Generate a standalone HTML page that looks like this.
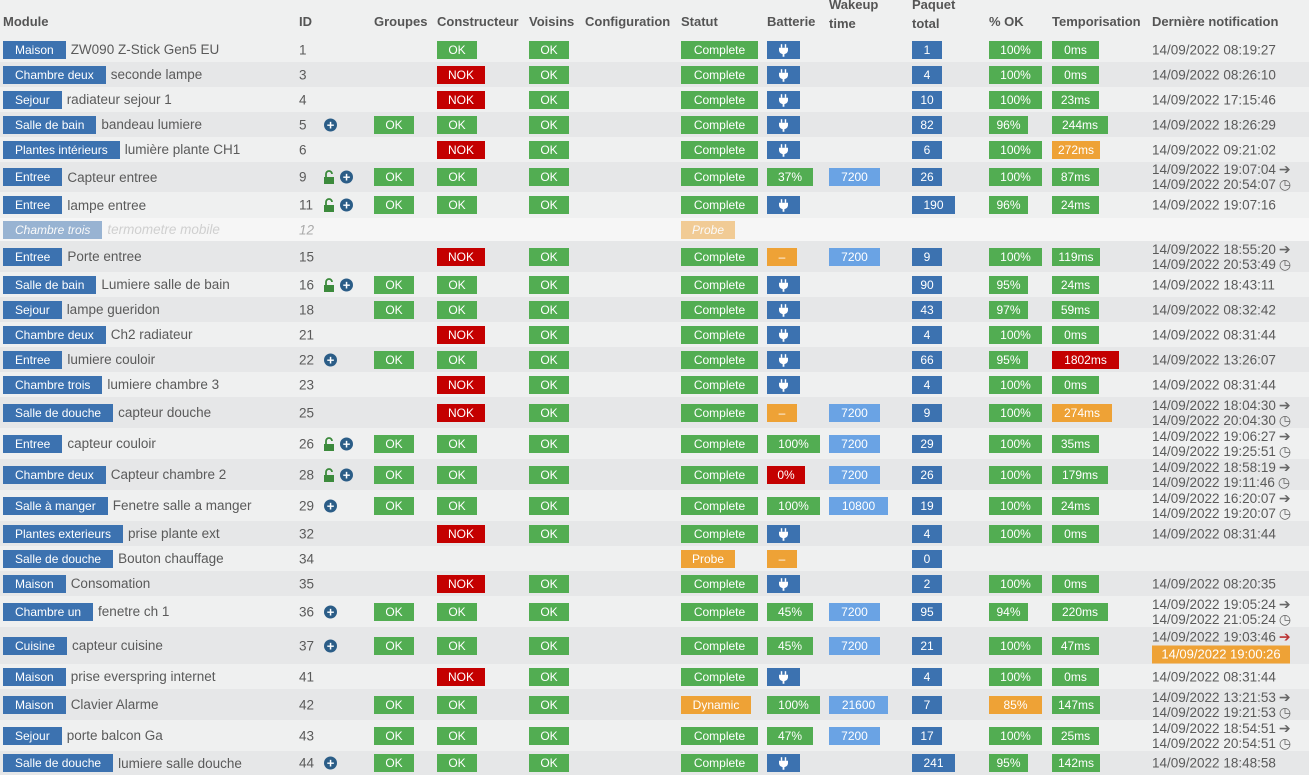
<!DOCTYPE html>
<html><head><meta charset="utf-8"><style>
body{margin:0;width:1309px;height:775px;overflow:hidden;background:#eff0f0;font-family:"Liberation Sans",sans-serif;font-size:13.5px;color:#5a5a5a;position:relative}
.h{position:absolute;top:14px;font-weight:bold;font-size:13px;color:#555}
.row{position:absolute;left:0;width:1309px}
.a{background:#eff0f0}.z{background:#e6e7e8}.w{background:#f6f6f6}
.row>*{position:absolute;top:50%;transform:translateY(-50%)}
.b{height:18px;line-height:18px;color:#fff;text-align:center;font-size:12px;white-space:nowrap}
.g{background:#52ad52}.r{background:#c40000}.bl{background:#3c72b0}.lb{background:#6aa3e4}.o{background:#eea236}
.m{left:3px;white-space:nowrap;display:flex;align-items:center}
.m .b{padding:0 12px;display:inline-block}
.m i{font-style:normal;margin-left:5px}
.id{left:299px}
.c1{left:374px;width:40px}.c2{left:437px;width:40px}.c2.r{width:48px}.c3{left:529px;width:40px}
.st{left:681px;width:77px}.bat{left:767px}.wk{left:829px;width:51px}.pq{left:912px;width:30px}.pq3{width:43px}
.ok{left:989px;width:53px}.ok9{width:39px}.tp{left:1052px;width:47px}
.d{left:1152px;line-height:15px;white-space:nowrap}
.plus{width:13px;height:13px;border-radius:50%;background:#2b5d87;color:#fff;font-size:13px;line-height:13px;text-align:center;font-weight:bold}
.ic{font-size:14px;color:#666;margin-left:3px}
</style></head><body>
<div class="h" style="left:3px">Module</div>
<div class="h" style="left:299px">ID</div>
<div class="h" style="left:374px">Groupes</div>
<div class="h" style="left:437px">Constructeur</div>
<div class="h" style="left:529px">Voisins</div>
<div class="h" style="left:585px">Configuration</div>
<div class="h" style="left:681px">Statut</div>
<div class="h" style="left:767px">Batterie</div>
<div class="h" style="left:829px;top:-5px;line-height:19px">Wakeup<br>time</div>
<div class="h" style="left:912px;top:-5px;line-height:19px">Paquet<br>total</div>
<div class="h" style="left:989px">% OK</div>
<div class="h" style="left:1052px">Temporisation</div>
<div class="h" style="left:1152px">Dernière notification</div>

<svg width="0" height="0" style="position:absolute"><defs>
<symbol id="plug" viewBox="0 0 10 14"><rect x="2" y="0" width="1.6" height="4" fill="#fff"/><rect x="6.4" y="0" width="1.6" height="4" fill="#fff"/><path d="M0 4h10v3a5 5 0 0 1-4 4v3h-2v-3a5 5 0 0 1-4-4z" fill="#fff"/></symbol>
<symbol id="lock" viewBox="0 0 14 14"><path d="M3 7V4a3 3 0 0 1 6 0" stroke="#3c8a3c" stroke-width="1.8" fill="none"/><rect x="1" y="7" width="10" height="7" fill="#3c8a3c"/></symbol>
</defs></svg>

<div class="row a" style="top:37px;height:25px"><span class="m"><span class="b bl">Maison</span><i>ZW090 Z-Stick Gen5 EU</i></span><span class="id">1</span><span class="b g c2">OK</span><span class="b g c3">OK</span><span class="b g st">Complete</span><span class="b bl bat" style="width:33px"><svg width="9" height="13" style="margin-top:3px"><use href="#plug"/></svg></span><span class="b bl pq">1</span><span class="b g ok">100%</span><span class="b g tp">0ms</span><span class="d">14/09/2022 08:19:27</span></div>
<div class="row z" style="top:62px;height:25px"><span class="m"><span class="b bl">Chambre deux</span><i>seconde lampe</i></span><span class="id">3</span><span class="b r c2">NOK</span><span class="b g c3">OK</span><span class="b g st">Complete</span><span class="b bl bat" style="width:33px"><svg width="9" height="13" style="margin-top:3px"><use href="#plug"/></svg></span><span class="b bl pq">4</span><span class="b g ok">100%</span><span class="b g tp">0ms</span><span class="d">14/09/2022 08:26:10</span></div>
<div class="row a" style="top:87px;height:25px"><span class="m"><span class="b bl">Sejour</span><i>radiateur sejour 1</i></span><span class="id">4</span><span class="b r c2">NOK</span><span class="b g c3">OK</span><span class="b g st">Complete</span><span class="b bl bat" style="width:33px"><svg width="9" height="13" style="margin-top:3px"><use href="#plug"/></svg></span><span class="b bl pq">10</span><span class="b g ok">100%</span><span class="b g tp">23ms</span><span class="d">14/09/2022 17:15:46</span></div>
<div class="row z" style="top:112px;height:25px"><span class="m"><span class="b bl">Salle de bain</span><i>bandeau lumiere</i></span><span class="id">5</span><span class="plus" style="left:324px">+</span><span class="b g c1">OK</span><span class="b g c2">OK</span><span class="b g c3">OK</span><span class="b g st">Complete</span><span class="b bl bat" style="width:33px"><svg width="9" height="13" style="margin-top:3px"><use href="#plug"/></svg></span><span class="b bl pq">82</span><span class="b g ok ok9">96%</span><span class="b g tp" style="width:56px">244ms</span><span class="d">14/09/2022 18:26:29</span></div>
<div class="row a" style="top:137px;height:25px"><span class="m"><span class="b bl">Plantes intérieurs</span><i>lumière plante CH1</i></span><span class="id">6</span><span class="b r c2">NOK</span><span class="b g c3">OK</span><span class="b g st">Complete</span><span class="b bl bat" style="width:33px"><svg width="9" height="13" style="margin-top:3px"><use href="#plug"/></svg></span><span class="b bl pq">6</span><span class="b g ok">100%</span><span class="b o tp" style="width:48px">272ms</span><span class="d">14/09/2022 09:21:02</span></div>
<div class="row z" style="top:162px;height:30px"><span class="m"><span class="b bl">Entree</span><i>Capteur entree</i></span><span class="id">9</span><svg style="left:323px" width="14" height="14"><use href="#lock"/></svg><span class="plus" style="left:340px">+</span><span class="b g c1">OK</span><span class="b g c2">OK</span><span class="b g c3">OK</span><span class="b g st">Complete</span><span class="b g bat" style="width:46px">37%</span><span class="b lb wk">7200</span><span class="b bl pq">26</span><span class="b g ok">100%</span><span class="b g tp">87ms</span><span class="d">14/09/2022 19:07:04<span class="ic">➔</span><br>14/09/2022 20:54:07<span class="ic">◷</span></span></div>
<div class="row a" style="top:192px;height:26px"><span class="m"><span class="b bl">Entree</span><i>lampe entree</i></span><span class="id">11</span><svg style="left:323px" width="14" height="14"><use href="#lock"/></svg><span class="plus" style="left:340px">+</span><span class="b g c1">OK</span><span class="b g c2">OK</span><span class="b g c3">OK</span><span class="b g st">Complete</span><span class="b bl bat" style="width:33px"><svg width="9" height="13" style="margin-top:3px"><use href="#plug"/></svg></span><span class="b bl pq pq3">190</span><span class="b g ok ok9">96%</span><span class="b g tp">24ms</span><span class="d">14/09/2022 19:07:16</span></div>
<div class="row w" style="top:218px;height:23px;color:#aaa;font-style:italic"><span class="m" style="opacity:.5"><span class="b bl" style="font-style:italic">Chambre trois</span><i style="font-style:italic">termometre mobile</i></span><span class="id">12</span><span class="b o st" style="width:54px;opacity:.5">Probe</span></div>
<div class="row z" style="top:241px;height:31px"><span class="m"><span class="b bl">Entree</span><i>Porte entree</i></span><span class="id">15</span><span class="b r c2">NOK</span><span class="b g c3">OK</span><span class="b g st">Complete</span><span class="b o bat" style="width:30px">–</span><span class="b lb wk">7200</span><span class="b bl pq">9</span><span class="b g ok">100%</span><span class="b g tp" style="width:48px">119ms</span><span class="d">14/09/2022 18:55:20<span class="ic">➔</span><br>14/09/2022 20:53:49<span class="ic">◷</span></span></div>
<div class="row a" style="top:272px;height:25px"><span class="m"><span class="b bl">Salle de bain</span><i>Lumiere salle de bain</i></span><span class="id">16</span><svg style="left:323px" width="14" height="14"><use href="#lock"/></svg><span class="plus" style="left:340px">+</span><span class="b g c1">OK</span><span class="b g c2">OK</span><span class="b g c3">OK</span><span class="b g st">Complete</span><span class="b bl bat" style="width:33px"><svg width="9" height="13" style="margin-top:3px"><use href="#plug"/></svg></span><span class="b bl pq">90</span><span class="b g ok ok9">95%</span><span class="b g tp">24ms</span><span class="d">14/09/2022 18:43:11</span></div>
<div class="row z" style="top:297px;height:25px"><span class="m"><span class="b bl">Sejour</span><i>lampe gueridon</i></span><span class="id">18</span><span class="b g c1">OK</span><span class="b g c2">OK</span><span class="b g c3">OK</span><span class="b g st">Complete</span><span class="b bl bat" style="width:33px"><svg width="9" height="13" style="margin-top:3px"><use href="#plug"/></svg></span><span class="b bl pq">43</span><span class="b g ok ok9">97%</span><span class="b g tp">59ms</span><span class="d">14/09/2022 08:32:42</span></div>
<div class="row a" style="top:322px;height:25px"><span class="m"><span class="b bl">Chambre deux</span><i>Ch2 radiateur</i></span><span class="id">21</span><span class="b r c2">NOK</span><span class="b g c3">OK</span><span class="b g st">Complete</span><span class="b bl bat" style="width:33px"><svg width="9" height="13" style="margin-top:3px"><use href="#plug"/></svg></span><span class="b bl pq">4</span><span class="b g ok">100%</span><span class="b g tp">0ms</span><span class="d">14/09/2022 08:31:44</span></div>
<div class="row z" style="top:347px;height:25px"><span class="m"><span class="b bl">Entree</span><i>lumiere couloir</i></span><span class="id">22</span><span class="plus" style="left:324px">+</span><span class="b g c1">OK</span><span class="b g c2">OK</span><span class="b g c3">OK</span><span class="b g st">Complete</span><span class="b bl bat" style="width:33px"><svg width="9" height="13" style="margin-top:3px"><use href="#plug"/></svg></span><span class="b bl pq">66</span><span class="b g ok ok9">95%</span><span class="b r tp" style="width:67px">1802ms</span><span class="d">14/09/2022 13:26:07</span></div>
<div class="row a" style="top:372px;height:25px"><span class="m"><span class="b bl">Chambre trois</span><i>lumiere chambre 3</i></span><span class="id">23</span><span class="b r c2">NOK</span><span class="b g c3">OK</span><span class="b g st">Complete</span><span class="b bl bat" style="width:33px"><svg width="9" height="13" style="margin-top:3px"><use href="#plug"/></svg></span><span class="b bl pq">4</span><span class="b g ok">100%</span><span class="b g tp">0ms</span><span class="d">14/09/2022 08:31:44</span></div>
<div class="row z" style="top:397px;height:31px"><span class="m"><span class="b bl">Salle de douche</span><i>capteur douche</i></span><span class="id">25</span><span class="b r c2">NOK</span><span class="b g c3">OK</span><span class="b g st">Complete</span><span class="b o bat" style="width:30px">–</span><span class="b lb wk">7200</span><span class="b bl pq">9</span><span class="b g ok">100%</span><span class="b o tp" style="width:60px">274ms</span><span class="d">14/09/2022 18:04:30<span class="ic">➔</span><br>14/09/2022 20:04:30<span class="ic">◷</span></span></div>
<div class="row a" style="top:428px;height:31px"><span class="m"><span class="b bl">Entree</span><i>capteur couloir</i></span><span class="id">26</span><svg style="left:323px" width="14" height="14"><use href="#lock"/></svg><span class="plus" style="left:340px">+</span><span class="b g c1">OK</span><span class="b g c2">OK</span><span class="b g c3">OK</span><span class="b g st">Complete</span><span class="b g bat" style="width:53px">100%</span><span class="b lb wk">7200</span><span class="b bl pq">29</span><span class="b g ok">100%</span><span class="b g tp">35ms</span><span class="d">14/09/2022 19:06:27<span class="ic">➔</span><br>14/09/2022 19:25:51<span class="ic">◷</span></span></div>
<div class="row z" style="top:459px;height:31px"><span class="m"><span class="b bl">Chambre deux</span><i>Capteur chambre 2</i></span><span class="id">28</span><svg style="left:323px" width="14" height="14"><use href="#lock"/></svg><span class="plus" style="left:340px">+</span><span class="b g c1">OK</span><span class="b g c2">OK</span><span class="b g c3">OK</span><span class="b g st">Complete</span><span class="b r bat" style="width:38px">0%</span><span class="b lb wk">7200</span><span class="b bl pq">26</span><span class="b g ok">100%</span><span class="b g tp" style="width:56px">179ms</span><span class="d">14/09/2022 18:58:19<span class="ic">➔</span><br>14/09/2022 19:11:46<span class="ic">◷</span></span></div>
<div class="row a" style="top:490px;height:31px"><span class="m"><span class="b bl">Salle à manger</span><i>Fenetre salle a manger</i></span><span class="id">29</span><span class="plus" style="left:324px">+</span><span class="b g c1">OK</span><span class="b g c2">OK</span><span class="b g c3">OK</span><span class="b g st">Complete</span><span class="b g bat" style="width:53px">100%</span><span class="b lb wk" style="width:59px">10800</span><span class="b bl pq">19</span><span class="b g ok">100%</span><span class="b g tp">24ms</span><span class="d">14/09/2022 16:20:07<span class="ic">➔</span><br>14/09/2022 19:20:07<span class="ic">◷</span></span></div>
<div class="row z" style="top:521px;height:25px"><span class="m"><span class="b bl">Plantes exterieurs</span><i>prise plante ext</i></span><span class="id">32</span><span class="b r c2">NOK</span><span class="b g c3">OK</span><span class="b g st">Complete</span><span class="b bl bat" style="width:33px"><svg width="9" height="13" style="margin-top:3px"><use href="#plug"/></svg></span><span class="b bl pq">4</span><span class="b g ok">100%</span><span class="b g tp">0ms</span><span class="d">14/09/2022 08:31:44</span></div>
<div class="row a" style="top:546px;height:25px"><span class="m"><span class="b bl">Salle de douche</span><i>Bouton chauffage</i></span><span class="id">34</span><span class="b o st" style="width:54px">Probe</span><span class="b o bat" style="width:30px">–</span><span class="b bl pq">0</span></div>
<div class="row z" style="top:571px;height:25px"><span class="m"><span class="b bl">Maison</span><i>Consomation</i></span><span class="id">35</span><span class="b r c2">NOK</span><span class="b g c3">OK</span><span class="b g st">Complete</span><span class="b bl bat" style="width:33px"><svg width="9" height="13" style="margin-top:3px"><use href="#plug"/></svg></span><span class="b bl pq">2</span><span class="b g ok">100%</span><span class="b g tp">0ms</span><span class="d">14/09/2022 08:20:35</span></div>
<div class="row a" style="top:596px;height:31px"><span class="m"><span class="b bl">Chambre un</span><i>fenetre ch 1</i></span><span class="id">36</span><span class="plus" style="left:324px">+</span><span class="b g c1">OK</span><span class="b g c2">OK</span><span class="b g c3">OK</span><span class="b g st">Complete</span><span class="b g bat" style="width:46px">45%</span><span class="b lb wk">7200</span><span class="b bl pq">95</span><span class="b g ok ok9">94%</span><span class="b g tp" style="width:56px">220ms</span><span class="d">14/09/2022 19:05:24<span class="ic">➔</span><br>14/09/2022 21:05:24<span class="ic">◷</span></span></div>
<div class="row z" style="top:627px;height:37px"><span class="m"><span class="b bl">Cuisine</span><i>capteur cuisine</i></span><span class="id">37</span><span class="plus" style="left:324px">+</span><span class="b g c1">OK</span><span class="b g c2">OK</span><span class="b g c3">OK</span><span class="b g st">Complete</span><span class="b g bat" style="width:46px">45%</span><span class="b lb wk">7200</span><span class="b bl pq">21</span><span class="b g ok">100%</span><span class="b g tp">47ms</span><span class="d" style="line-height:16px">14/09/2022 19:03:46<span class="ic" style="color:#b33">➔</span><br><span class="b o" style="display:inline-block;width:138px;font-size:13px">14/09/2022 19:00:26</span></span></div>
<div class="row a" style="top:664px;height:25px"><span class="m"><span class="b bl">Maison</span><i>prise everspring internet</i></span><span class="id">41</span><span class="b r c2">NOK</span><span class="b g c3">OK</span><span class="b g st">Complete</span><span class="b bl bat" style="width:33px"><svg width="9" height="13" style="margin-top:3px"><use href="#plug"/></svg></span><span class="b bl pq">4</span><span class="b g ok">100%</span><span class="b g tp">0ms</span><span class="d">14/09/2022 08:31:44</span></div>
<div class="row z" style="top:689px;height:31px"><span class="m"><span class="b bl">Maison</span><i>Clavier Alarme</i></span><span class="id">42</span><span class="b g c1">OK</span><span class="b g c2">OK</span><span class="b g c3">OK</span><span class="b o st" style="width:70px">Dynamic</span><span class="b g bat" style="width:53px">100%</span><span class="b lb wk" style="width:59px">21600</span><span class="b bl pq">7</span><span class="b o ok">85%</span><span class="b g tp" style="width:48px">147ms</span><span class="d">14/09/2022 13:21:53<span class="ic">➔</span><br>14/09/2022 19:21:53<span class="ic">◷</span></span></div>
<div class="row a" style="top:720px;height:31px"><span class="m"><span class="b bl">Sejour</span><i>porte balcon Ga</i></span><span class="id">43</span><span class="b g c1">OK</span><span class="b g c2">OK</span><span class="b g c3">OK</span><span class="b g st">Complete</span><span class="b g bat" style="width:46px">47%</span><span class="b lb wk">7200</span><span class="b bl pq">17</span><span class="b g ok">100%</span><span class="b g tp">25ms</span><span class="d">14/09/2022 18:54:51<span class="ic">➔</span><br>14/09/2022 20:54:51<span class="ic">◷</span></span></div>
<div class="row z" style="top:751px;height:24px"><span class="m"><span class="b bl">Salle de douche</span><i>lumiere salle douche</i></span><span class="id">44</span><span class="plus" style="left:324px">+</span><span class="b g c1">OK</span><span class="b g c2">OK</span><span class="b g c3">OK</span><span class="b g st">Complete</span><span class="b bl bat" style="width:33px"><svg width="9" height="13" style="margin-top:3px"><use href="#plug"/></svg></span><span class="b bl pq pq3">241</span><span class="b g ok ok9">95%</span><span class="b g tp" style="width:48px">142ms</span><span class="d">14/09/2022 18:48:58</span></div>
</body></html>
